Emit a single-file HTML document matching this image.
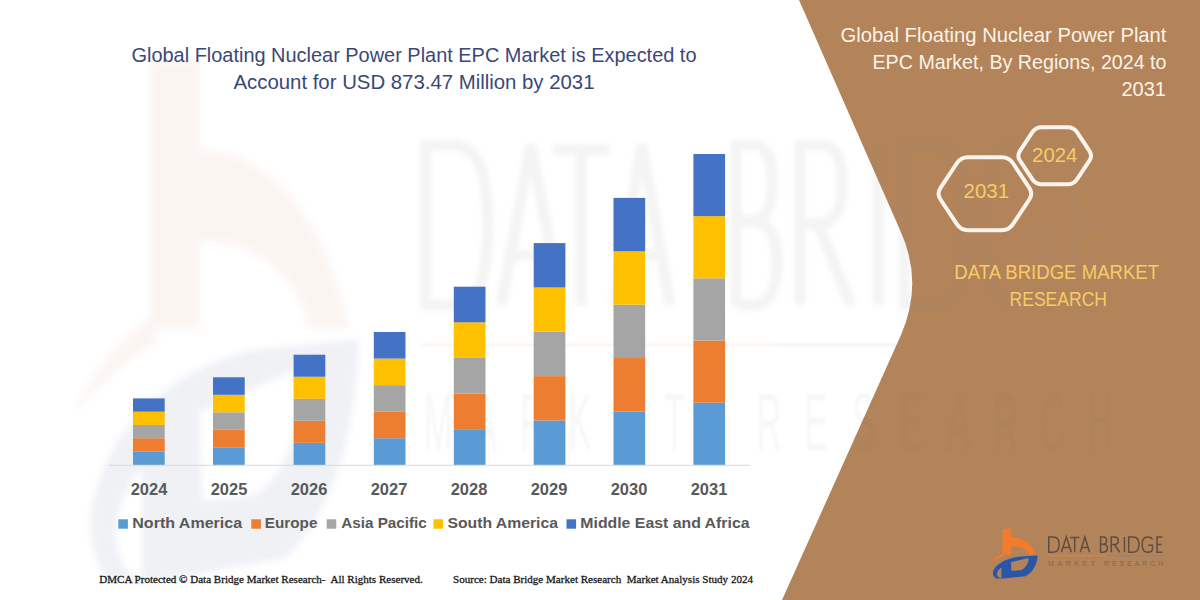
<!DOCTYPE html>
<html>
<head>
<meta charset="utf-8">
<style>
html,body{margin:0;padding:0;background:#fff;}
body{width:1200px;height:600px;overflow:hidden;position:relative;}
svg{position:absolute;left:0;top:0;display:block;}
text{font-family:"Liberation Sans",sans-serif;}
.ser{font-family:"Liberation Serif",serif;}
</style>
</head>
<body>
<svg width="1200" height="600" viewBox="0 0 1200 600">
  <defs>
    <filter id="bl3" x="-20%" y="-20%" width="140%" height="140%"><feGaussianBlur stdDeviation="3"/></filter>
    <filter id="bl6" x="-20%" y="-20%" width="140%" height="140%"><feGaussianBlur stdDeviation="6"/></filter>
    <filter id="bl1" x="-20%" y="-20%" width="140%" height="140%"><feGaussianBlur stdDeviation="1.2"/></filter>
    <filter id="bl25" x="-20%" y="-20%" width="140%" height="140%"><feGaussianBlur stdDeviation="2.6"/></filter>
    <filter id="bl2" x="-20%" y="-20%" width="140%" height="140%"><feGaussianBlur stdDeviation="2"/></filter>
    <filter id="bl4" x="-20%" y="-20%" width="140%" height="140%"><feColorMatrix type="saturate" values="0.6"/><feGaussianBlur stdDeviation="3.5"/></filter>
    <clipPath id="panelclip"><path d="M799 0 L1200 0 L1200 600 L782 600 L901 335 Q924 282 900 230 Z"/></clipPath>
    <g id="logoshape">
      <path d="M1002.7 528.8 L1011.1 528.8 L1011.1 537.5 C1022 537.5 1032 543 1036 554.5 L1029.5 554.5 C1027 549 1020 546.2 1011.1 546.2 L1011.1 554.5 L1002.7 554.5 Z" fill="#F47B2A"/>
      <path d="M1003 553.2 C997.5 555.5 993 558.5 990 562.5 C994 560 998.5 557.5 1004 555.8 Z" fill="#F47B2A"/>
      <path d="M993 571.5 C996 563 1008 558 1020 556.5 L1037.6 555.4 C1037.2 563 1034.5 571 1025.5 576.2 L1003.5 578.5 L996 578.5 C993.5 577 992.5 574 993 571.5 Z M1011 562.3 L1028.6 558 C1028.8 563 1025 569 1020 570.3 L1011.5 570.8 Z M1001.4 567.6 C998.4 569.6 996.6 572.5 997.2 575 C997.8 577 999.4 578 1001.4 578 Z" fill="#2A56A8" fill-rule="evenodd"/>
    </g>
    <g id="wmletters">
      <path d="M425.5 145 L452 145 C478 145 488 172 488 225 C488 278 478 305 452 305 L425.5 305 Z" vector-effect="non-scaling-stroke"/>
      <path d="M501 305 L531 145 L561 305 M511 255 L551 255" vector-effect="non-scaling-stroke"/>
      <path d="M553 149.5 L609 149.5 M581 149.5 L581 305" vector-effect="non-scaling-stroke"/>
      <path d="M614 305 L642 145 L670 305 M624 255 L660 255" vector-effect="non-scaling-stroke"/>
      <path d="M736 305 L736 145 L753 145 C768 145 772 160 772 183 C772 208 765 221 751 221 L736 221 M751 221 C770 221 777 238 777 262 C777 290 769 305 752 305 L736 305" vector-effect="non-scaling-stroke"/>
      <path d="M800 305 L800 145 L820 145 C837 145 842 160 842 184 C842 212 834 224 818 224 L800 224 M818 224 L851 305" vector-effect="non-scaling-stroke"/>
      <path d="M879 145 L879 305" vector-effect="non-scaling-stroke"/>
      <path d="M904.5 145 L932 145 C958 145 966 172 966 225 C966 278 958 305 932 305 L904.5 305 Z" vector-effect="non-scaling-stroke"/>
      <path d="M1047 172 C1043 152 1032 145 1017 145 C996 145 985 170 985 225 C985 280 996 305 1017 305 C1036 305 1047 292 1047 268 L1047 232 L1021 232" vector-effect="non-scaling-stroke"/>
      <path d="M1106 145 L1074 145 L1074 305 L1106 305 M1074 224 L1102 224" vector-effect="non-scaling-stroke"/>
    </g>
  </defs>
  <rect x="0" y="0" width="1200" height="600" fill="#ffffff"/>

  <!-- faint big logo watermark (left) -->
  <g opacity="0.08" filter="url(#bl4)">
    <use href="#logoshape" transform="matrix(5.99 0 0 10.53 -5856.5 -5509.6)"/>
  </g>
  <!-- DATA BRIDGE watermark letters (on white) -->
  <g fill="none" stroke="#DCDCDC" stroke-width="11" opacity="0.31" filter="url(#bl25)">
    <use href="#wmletters"/>
  </g>
  <rect x="420" y="343.5" width="360" height="3" fill="#F7A050" opacity="0.1" filter="url(#bl1)"/>
  <rect x="780" y="343.5" width="360" height="3" fill="#8090B0" opacity="0.1" filter="url(#bl1)"/>
  <g fill="#D0D0D0" font-size="82" opacity="0.16" filter="url(#bl1)">
    <text transform="translate(438.0 450) scale(0.42 1)" text-anchor="middle">M</text>
    <text transform="translate(485.3 450) scale(0.42 1)" text-anchor="middle">A</text>
    <text transform="translate(532.6 450) scale(0.42 1)" text-anchor="middle">R</text>
    <text transform="translate(579.9 450) scale(0.42 1)" text-anchor="middle">K</text>
    <text transform="translate(627.2 450) scale(0.42 1)" text-anchor="middle">E</text>
    <text transform="translate(674.5 450) scale(0.42 1)" text-anchor="middle">T</text>
    <text transform="translate(769.1 450) scale(0.42 1)" text-anchor="middle">R</text>
    <text transform="translate(816.4 450) scale(0.42 1)" text-anchor="middle">E</text>
    <text transform="translate(863.7 450) scale(0.42 1)" text-anchor="middle">S</text>
    <text transform="translate(911.0 450) scale(0.42 1)" text-anchor="middle">E</text>
    <text transform="translate(958.3 450) scale(0.42 1)" text-anchor="middle">A</text>
    <text transform="translate(1005.6 450) scale(0.42 1)" text-anchor="middle">R</text>
    <text transform="translate(1052.9 450) scale(0.42 1)" text-anchor="middle">C</text>
    <text transform="translate(1100.2 450) scale(0.42 1)" text-anchor="middle">H</text>
  </g>

  <!-- brown panel -->
  <path d="M799 0 L1200 0 L1200 600 L782 600 L901 335 Q924 282 900 230 Z" fill="#B3845A"/>
  <!-- watermark overlay on brown -->
  <g clip-path="url(#panelclip)">
    <g fill="none" stroke="#8C8C8C" stroke-width="9" opacity="0.09" filter="url(#bl2)">
      <use href="#wmletters"/>
    </g>
    <rect x="780" y="343.5" width="360" height="3" fill="#8C8C8C" opacity="0.08" filter="url(#bl1)"/>
    <g fill="#6C6C6C" font-size="82" opacity="0.07" filter="url(#bl1)">
      <text transform="translate(438.0 450) scale(0.42 1)" text-anchor="middle">M</text>
    <text transform="translate(485.3 450) scale(0.42 1)" text-anchor="middle">A</text>
    <text transform="translate(532.6 450) scale(0.42 1)" text-anchor="middle">R</text>
    <text transform="translate(579.9 450) scale(0.42 1)" text-anchor="middle">K</text>
    <text transform="translate(627.2 450) scale(0.42 1)" text-anchor="middle">E</text>
    <text transform="translate(674.5 450) scale(0.42 1)" text-anchor="middle">T</text>
    <text transform="translate(769.1 450) scale(0.42 1)" text-anchor="middle">R</text>
    <text transform="translate(816.4 450) scale(0.42 1)" text-anchor="middle">E</text>
    <text transform="translate(863.7 450) scale(0.42 1)" text-anchor="middle">S</text>
    <text transform="translate(911.0 450) scale(0.42 1)" text-anchor="middle">E</text>
    <text transform="translate(958.3 450) scale(0.42 1)" text-anchor="middle">A</text>
    <text transform="translate(1005.6 450) scale(0.42 1)" text-anchor="middle">R</text>
    <text transform="translate(1052.9 450) scale(0.42 1)" text-anchor="middle">C</text>
    <text transform="translate(1100.2 450) scale(0.42 1)" text-anchor="middle">H</text>
    </g>
  </g>

  <!-- title -->
  <g fill="#3A4877" font-size="20.5">
    <text x="414" y="61.8" text-anchor="middle" textLength="565" lengthAdjust="spacingAndGlyphs">Global Floating Nuclear Power Plant EPC Market is Expected to</text>
    <text x="414" y="89.3" text-anchor="middle" textLength="361" lengthAdjust="spacingAndGlyphs">Account for USD 873.47 Million by 2031</text>
  </g>

  <!-- axis -->
  <rect x="109" y="464.8" width="641" height="1" fill="#D9D9D9"/>

  <!-- bars -->
  <g>
    <rect x="133" y="451.52" width="31.7" height="13.29" fill="#5B9BD5"/>
    <rect x="133" y="438.24" width="31.7" height="13.29" fill="#ED7D31"/>
    <rect x="133" y="424.96" width="31.7" height="13.29" fill="#A5A5A5"/>
    <rect x="133" y="411.68" width="31.7" height="13.29" fill="#FFC000"/>
    <rect x="133" y="398.40" width="31.7" height="13.29" fill="#4472C4"/>
    <rect x="213" y="447.30" width="31.7" height="17.51" fill="#5B9BD5"/>
    <rect x="213" y="429.80" width="31.7" height="17.51" fill="#ED7D31"/>
    <rect x="213" y="412.30" width="31.7" height="17.51" fill="#A5A5A5"/>
    <rect x="213" y="394.80" width="31.7" height="17.51" fill="#FFC000"/>
    <rect x="213" y="377.30" width="31.7" height="17.51" fill="#4472C4"/>
    <rect x="293.6" y="442.78" width="31.7" height="22.03" fill="#5B9BD5"/>
    <rect x="293.6" y="420.76" width="31.7" height="22.03" fill="#ED7D31"/>
    <rect x="293.6" y="398.74" width="31.7" height="22.03" fill="#A5A5A5"/>
    <rect x="293.6" y="376.72" width="31.7" height="22.03" fill="#FFC000"/>
    <rect x="293.6" y="354.70" width="31.7" height="22.03" fill="#4472C4"/>
    <rect x="373.8" y="438.24" width="31.7" height="26.57" fill="#5B9BD5"/>
    <rect x="373.8" y="411.68" width="31.7" height="26.57" fill="#ED7D31"/>
    <rect x="373.8" y="385.12" width="31.7" height="26.57" fill="#A5A5A5"/>
    <rect x="373.8" y="358.56" width="31.7" height="26.57" fill="#FFC000"/>
    <rect x="373.8" y="332.00" width="31.7" height="26.57" fill="#4472C4"/>
    <rect x="453.8" y="429.18" width="31.7" height="35.63" fill="#5B9BD5"/>
    <rect x="453.8" y="393.56" width="31.7" height="35.63" fill="#ED7D31"/>
    <rect x="453.8" y="357.94" width="31.7" height="35.63" fill="#A5A5A5"/>
    <rect x="453.8" y="322.32" width="31.7" height="35.63" fill="#FFC000"/>
    <rect x="453.8" y="286.70" width="31.7" height="35.63" fill="#4472C4"/>
    <rect x="533.7" y="420.46" width="31.7" height="44.35" fill="#5B9BD5"/>
    <rect x="533.7" y="376.12" width="31.7" height="44.35" fill="#ED7D31"/>
    <rect x="533.7" y="331.78" width="31.7" height="44.35" fill="#A5A5A5"/>
    <rect x="533.7" y="287.44" width="31.7" height="44.35" fill="#FFC000"/>
    <rect x="533.7" y="243.10" width="31.7" height="44.35" fill="#4472C4"/>
    <rect x="613.5" y="411.42" width="31.7" height="53.39" fill="#5B9BD5"/>
    <rect x="613.5" y="358.04" width="31.7" height="53.39" fill="#ED7D31"/>
    <rect x="613.5" y="304.66" width="31.7" height="53.39" fill="#A5A5A5"/>
    <rect x="613.5" y="251.28" width="31.7" height="53.39" fill="#FFC000"/>
    <rect x="613.5" y="197.90" width="31.7" height="53.39" fill="#4472C4"/>
    <rect x="693.4" y="402.64" width="31.7" height="62.17" fill="#5B9BD5"/>
    <rect x="693.4" y="340.48" width="31.7" height="62.17" fill="#ED7D31"/>
    <rect x="693.4" y="278.32" width="31.7" height="62.17" fill="#A5A5A5"/>
    <rect x="693.4" y="216.16" width="31.7" height="62.17" fill="#FFC000"/>
    <rect x="693.4" y="154.00" width="31.7" height="62.17" fill="#4472C4"/>
  </g>

  <!-- year labels -->
  <g fill="#595959" font-size="16" font-weight="bold" text-anchor="middle">
    <text x="149" y="494.5" textLength="36.6" lengthAdjust="spacingAndGlyphs">2024</text>
    <text x="229" y="494.5" textLength="36.6" lengthAdjust="spacingAndGlyphs">2025</text>
    <text x="309" y="494.5" textLength="36.6" lengthAdjust="spacingAndGlyphs">2026</text>
    <text x="389" y="494.5" textLength="36.6" lengthAdjust="spacingAndGlyphs">2027</text>
    <text x="469" y="494.5" textLength="36.6" lengthAdjust="spacingAndGlyphs">2028</text>
    <text x="549" y="494.5" textLength="36.6" lengthAdjust="spacingAndGlyphs">2029</text>
    <text x="629" y="494.5" textLength="36.6" lengthAdjust="spacingAndGlyphs">2030</text>
    <text x="709" y="494.5" textLength="36.6" lengthAdjust="spacingAndGlyphs">2031</text>
  </g>

  <!-- legend -->
  <rect x="118.3" y="519.3" width="9.6" height="9.4" fill="#5B9BD5"/>
  <rect x="251.3" y="519.3" width="9.6" height="9.4" fill="#ED7D31"/>
  <rect x="326.7" y="519.3" width="9.6" height="9.4" fill="#A5A5A5"/>
  <rect x="433.5" y="519.3" width="9.6" height="9.4" fill="#FFC000"/>
  <rect x="566.5" y="519.3" width="9.6" height="9.4" fill="#4472C4"/>
  <g fill="#595959" font-size="15.5" font-weight="bold">
    <text x="132.3" y="528" textLength="109.8" lengthAdjust="spacingAndGlyphs">North America</text>
    <text x="264.8" y="528" textLength="52.6" lengthAdjust="spacingAndGlyphs">Europe</text>
    <text x="341.2" y="528" textLength="85.6" lengthAdjust="spacingAndGlyphs">Asia Pacific</text>
    <text x="447.4" y="528" textLength="110.6" lengthAdjust="spacingAndGlyphs">South America</text>
    <text x="580.3" y="528" textLength="169.2" lengthAdjust="spacingAndGlyphs">Middle East and Africa</text>
  </g>

  <!-- footer -->
  <g fill="#1A1A1A" font-size="11" stroke="#1A1A1A" stroke-width="0.3">
    <text class="ser" style="white-space:pre" x="99.3" y="583" textLength="323.5" lengthAdjust="spacingAndGlyphs">DMCA Protected © Data Bridge Market Research-  All Rights Reserved.</text>
    <text class="ser" style="white-space:pre" x="453" y="583" textLength="300" lengthAdjust="spacingAndGlyphs">Source: Data Bridge Market Research  Market Analysis Study 2024</text>
  </g>

  <!-- right panel title -->
  <g fill="#FCF2E6" font-size="21" text-anchor="end">
    <text x="1166.5" y="41.7" textLength="326" lengthAdjust="spacingAndGlyphs">Global Floating Nuclear Power Plant</text>
    <text x="1166.5" y="68.8" textLength="294" lengthAdjust="spacingAndGlyphs">EPC Market, By Regions, 2024 to</text>
    <text x="1166" y="95.9" textLength="44.5" lengthAdjust="spacingAndGlyphs">2031</text>
  </g>

  <!-- hexagons -->
  <g fill="none" stroke="#FBF4EC" stroke-width="4">
    <path d="M940.5 187.9 L957.0 163.0 Q960.9 157.2 967.9 157.2 L1001.9 157.2 Q1008.9 157.2 1012.8 163.0 L1029.3 187.9 Q1033.2 193.7 1029.3 199.5 L1012.8 224.4 Q1008.9 230.2 1001.9 230.2 L967.9 230.2 Q960.9 230.2 957.0 224.4 L940.5 199.5 Q936.6 193.7 940.5 187.9 Z"/>
    <path d="M1020.0 150.8 L1032.4 132.2 Q1035.7 127.2 1041.7 127.2 L1067.7 127.2 Q1073.7 127.2 1077.0 132.2 L1089.4 150.8 Q1092.7 155.8 1089.4 160.7 L1077.0 179.3 Q1073.7 184.2 1067.7 184.2 L1041.7 184.2 Q1035.7 184.2 1032.4 179.3 L1020.0 160.7 Q1016.7 155.8 1020.0 150.8 Z"/>
  </g>
  <g fill="#F7CB68" font-size="20.5">
    <text x="963.6" y="197.7" textLength="45.5" lengthAdjust="spacingAndGlyphs">2031</text>
    <text x="1032.1" y="161.9" textLength="45.2" lengthAdjust="spacingAndGlyphs">2024</text>
  </g>

  <!-- DATA BRIDGE MARKET RESEARCH -->
  <g fill="#F7CB68" font-size="20" text-anchor="middle">
    <text x="1056.7" y="279.3" textLength="204.8" lengthAdjust="spacingAndGlyphs">DATA BRIDGE MARKET</text>
    <text x="1058.3" y="306.4" textLength="97.5" lengthAdjust="spacingAndGlyphs">RESEARCH</text>
  </g>

  <!-- logo -->
  <g>
    <use href="#logoshape"/>
    <g fill="none" stroke="#5E4D40" stroke-width="1.5">
      <use href="#wmletters" transform="matrix(0.166945 0 0 0.094967 977.71 523.23)" vector-effect="non-scaling-stroke"/>
    </g>
    <rect x="1048" y="555.2" width="58.6" height="1.1" fill="#E8803A"/>
    <rect x="1106.6" y="555.2" width="58" height="1.1" fill="#8C8683"/>
    <g font-size="7" fill="#7A6858"><text x="1048" y="566.3" textLength="47" lengthAdjust="spacing">MARKET</text><text x="1104" y="566.3" textLength="59" lengthAdjust="spacing">RESEARCH</text></g>
  </g>
</svg>
</body>
</html>
